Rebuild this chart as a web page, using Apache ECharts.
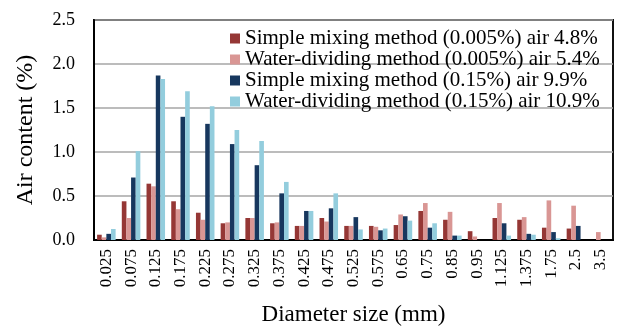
<!DOCTYPE html>
<html>
<head>
<meta charset="utf-8">
<script src="https://cdn.jsdelivr.net/npm/echarts@6/dist/echarts.min.js"></script>
<style>
  html, body { margin: 0; padding: 0; background: #fff; }
  #chart { width: 620px; height: 327px; }
</style>
</head>
<body>
<div id="chart"></div>
<script>
// Diameter classes (mm)
const diameters = ['0.025', '0.075', '0.125', '0.175', '0.225', '0.275', '0.325', '0.375', '0.425', '0.475',
  '0.525', '0.575', '0.65', '0.75', '0.85', '0.95', '1.125', '1.375', '1.75', '2.5', '3.5'];

const seriesNames = [
  'Simple mixing method (0.005%) air 4.8%',
  'Water-dividing method (0.005%) air 5.4%',
  'Simple mixing method (0.15%) air 9.9%',
  'Water-dividing method (0.15%) air 10.9%',
];

// Air content (%)
const simple005 = [0.06, 0.44, 0.64, 0.44, 0.31, 0.19, 0.25, 0.19, 0.16, 0.25,
  0.16, 0.16, 0.17, 0.33, 0.23, 0.10, 0.25, 0.23, 0.14, 0.13, 0];
const water005 = [0.03, 0.25, 0.61, 0.35, 0.23, 0.20, 0.25, 0.20, 0.16, 0.21,
  0.16, 0.15, 0.29, 0.42, 0.32, 0.04, 0.42, 0.26, 0.45, 0.39, 0.09];
const simple015 = [0.07, 0.71, 1.87, 1.40, 1.32, 1.09, 0.85, 0.53, 0.33, 0.36,
  0.26, 0.11, 0.27, 0.14, 0.05, 0, 0.19, 0.07, 0.09, 0.16, 0];
const water015 = [0.125, 1.01, 1.83, 1.69, 1.52, 1.25, 1.125, 0.66, 0.33, 0.53,
  0.12, 0.13, 0.22, 0.19, 0.05, 0, 0.05, 0.06, 0.02, 0, 0];

const yTicks = [0, 0.5, 1.0, 1.5, 2.0, 2.5];

const colors = ['#953735', '#D99694', '#17375E', '#93CDDD'];
const serif = "'Liberation Serif', 'Times New Roman', serif";

const chart = echarts.init(document.getElementById('chart'));

const seriesData = [simple005, water005, simple015, water015];

chart.setOption({
  animation: false,
  color: colors,
  textStyle: { fontFamily: serif, color: '#000' },
  grid: {
    left: 94,
    right: 7,
    top: 20,
    bottom: 87,
    outerBoundsMode: 'none',
    containLabel: false,
    show: true,
    borderColor: '#111',
    borderWidth: 2,
  },
  legend: {
    orient: 'vertical',
    left: 230,
    top: 28,
    padding: 0,
    itemWidth: 10,
    itemHeight: 10,
    itemGap: 0,
    icon: 'rect',
    data: seriesNames,
    textStyle: { fontFamily: serif, fontSize: 21, lineHeight: 20, color: '#000' },
  },
  xAxis: {
    type: 'category',
    data: diameters,
    name: 'Diameter size (mm)',
    nameLocation: 'middle',
    nameGap: 63,
    nameTextStyle: { fontFamily: serif, fontSize: 23, color: '#000' },
    axisLine: { lineStyle: { color: '#000', width: 2 } },
    axisTick: { show: false },
    axisLabel: {
      rotate: 90,
      interval: 0,
      margin: 9,
      fontFamily: serif,
      fontSize: 17,
      color: '#000',
    },
  },
  yAxis: {
    type: 'value',
    min: yTicks[0],
    max: yTicks[yTicks.length - 1],
    interval: 0.5,
    name: 'Air content (%)',
    nameLocation: 'middle',
    nameGap: 56,
    nameTextStyle: { fontFamily: serif, fontSize: 24, color: '#000' },
    axisLine: { show: true, lineStyle: { color: '#000', width: 2 } },
    axisTick: { show: false },
    axisLabel: {
      margin: 19,
      fontFamily: serif,
      fontSize: 18,
      color: '#000',
      formatter: v => v.toFixed(1),
    },
    splitLine: { lineStyle: { color: '#A6A6A6', width: 1.5 } },
  },
  series: seriesData.map((data, i) => ({
    name: seriesNames[i],
    type: 'bar',
    data,
    barGap: '0%',
    barCategoryGap: '25%',
  })),
});
</script>
</body>
</html>
